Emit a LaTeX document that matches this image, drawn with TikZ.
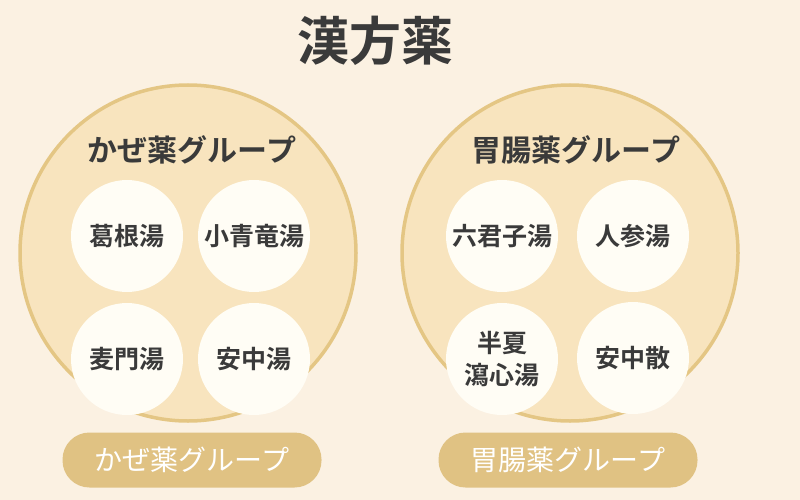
\documentclass[tikz,border=0pt]{standalone}
\usepackage{fontspec}
\setmainfont{Noto Sans CJK JP}
\newfontfamily\jpbold{Noto Sans CJK JP Bold}
\definecolor{bgc}{HTML}{FBF1E2}
\definecolor{bigfill}{HTML}{F8E4BE}
\definecolor{bigline}{HTML}{E4C684}
\definecolor{pillc}{HTML}{E0C283}
\definecolor{smallc}{HTML}{FFFDF5}
\definecolor{txt}{HTML}{3A3A3A}
\begin{document}
\begin{tikzpicture}[x=1pt,y=-1pt,
  bigcirc/.style={circle,fill=bigfill,draw=bigline,line width=3.5pt,minimum size=336pt,inner sep=0pt},
  herb/.style={circle,fill=smallc,minimum size=112pt,inner sep=0pt,text=txt,font=\jpbold\fontsize{25}{32}\selectfont,align=center},
  grouptitle/.style={text=txt,font=\jpbold\fontsize{30}{36}\selectfont,inner sep=0pt},
  pill/.style={rounded corners=27pt,fill=pillc,minimum width=259pt,minimum height=55pt,text=white,font=\fontsize{28}{32}\selectfont,inner sep=0pt}]
\fill[bgc] (0,0) rectangle (800,500);
\useasboundingbox (0,0) rectangle (800,500);
\node[font=\jpbold\fontsize{52}{56}\selectfont,text=txt,inner sep=0pt] (title) at (375,41) {漢方薬};
% left group
\node[bigcirc] (kaze) at (188,253) {};
\node[grouptitle] (kazet) at (192,150) {かぜ薬グループ};
\node[herb] (kakkon) at (127,236) {葛根湯};
\node[herb] (shosei) at (254,236) {小青竜湯};
\node[herb] (bakumon) at (127,359) {麦門湯};
\node[herb] (anchu) at (254,359) {安中湯};
\node[pill] (kazep) at (192,460) {かぜ薬グループ};
% right group
\node[bigcirc] (ichou) at (570,253) {};
\node[grouptitle] (ichout) at (576,150) {胃腸薬グループ};
\node[herb] (rikkun) at (502,236) {六君子湯};
\node[herb] (ninjin) at (633,236) {人参湯};
\node[herb] (hange) at (502,359) {半夏\\瀉心湯};
\node[herb] (anchusan) at (633,358) {安中散};
\node[pill] (ichoup) at (568,460) {胃腸薬グループ};
\end{tikzpicture}
\end{document}
